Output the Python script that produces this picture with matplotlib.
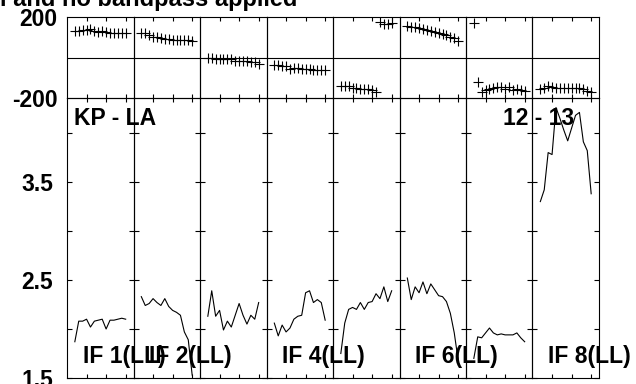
#!/usr/bin/env python3

import matplotlib
matplotlib.use("Agg")
import matplotlib.pyplot as plt

# channels shown in every IF panel
channels = [2, 3, 4, 5, 6, 7, 8, 9, 10, 11, 12, 13, 14, 15]

# amplitude per IF
amp_if1 = [1.87, 2.08, 2.08, 2.10, 2.02, 2.08, 2.09, 2.10, 2.00, 2.09, 2.09, 2.10, 2.11, 2.10]
amp_if2 = [2.33, 2.24, 2.26, 2.31, 2.27, 2.24, 2.31, 2.23, 2.19, 2.17, 2.14, 1.97, 1.89, 1.53]
amp_if3 = [2.13, 2.39, 2.13, 2.19, 1.99, 2.08, 2.02, 2.14, 2.26, 2.14, 2.05, 2.14, 2.10, 2.27]
amp_if4 = [2.06, 1.93, 2.04, 1.97, 2.01, 2.10, 2.13, 2.14, 2.37, 2.39, 2.27, 2.30, 2.27, 2.09]
amp_if5 = [1.75, 2.06, 2.20, 2.22, 2.20, 2.27, 2.20, 2.27, 2.28, 2.36, 2.31, 2.43, 2.28, 2.39]
amp_if6 = [2.52, 2.30, 2.43, 2.37, 2.48, 2.36, 2.46, 2.40, 2.34, 2.33, 2.28, 2.16, 1.96, 1.68]
amp_if7 = [1.70, 1.92, 1.91, 1.96, 2.01, 1.96, 1.94, 1.95, 1.94, 1.94, 1.94, 1.96, 1.91, 1.87]
amp_if8 = [3.30, 3.42, 3.80, 3.78, 4.26, 4.15, 4.03, 3.92, 4.05, 4.18, 4.21, 3.91, 3.82, 3.38]

# phase (degrees) per IF
phase_if1 = [129, 131, 134, 135, 142, 132, 126, 129, 126, 121, 119, 119, 119, 119]
phase_if2 = [119, 119, 109, 103, 103, 95, 91, 90, 85, 87, 85, 85, 85, 82]
phase_if3 = [0, -3, -5, -5, -6, -8, -8, -15, -15, -15, -16, -20, -24, -31]
phase_if4 = [-39, -39, -41, -44, -55, -51, -54, -57, -57, -59, -60, -60, -62, -62]
phase_if5 = [-139, -142, -142, -150, -153, -155, -158, -158, -162, -172, 176, 166, 166, 168]
phase_if6 = [155, 152, 149, 144, 140, 135, 131, 126, 121, 116, 109, 103, 95, 83]
phase_if7 = [168, -121, -171, -162, -155, -152, -147, -145, -158, -145, -162, -155, -162, -166]
phase_if8 = [-155, -150, -142, -145, -150, -152, -152, -152, -150, -149, -152, -158, -165, -168]

if_labels = ["IF 1(LL)", "IF 2(LL)", "", "IF 4(LL)", "", "IF 6(LL)", "", "IF 8(LL)"]


def main():
    plt.rcParams["font.family"] = ["Liberation Sans", "DejaVu Sans"]
    plt.rcParams["font.weight"] = "bold"

    amps = [amp_if1, amp_if2, amp_if3, amp_if4, amp_if5, amp_if6, amp_if7, amp_if8]
    phases = [phase_if1, phase_if2, phase_if3, phase_if4,
              phase_if5, phase_if6, phase_if7, phase_if8]

    W, H = 636, 384
    fig = plt.figure(figsize=(W / 100, H / 100), dpi=100)
    gs = fig.add_gridspec(
        2, 8,
        left=67 / W, right=599 / W,
        top=1 - 17 / H, bottom=1 - 378 / H,
        height_ratios=[81, 280],
        hspace=0, wspace=0,
    )

    fs = 16.5

    for i in range(8):
        axp = fig.add_subplot(gs[0, i])
        axa = fig.add_subplot(gs[1, i])

        for ax in (axp, axa):
            ax.set_xlim(0, 17)
            ax.set_xticks([5, 10, 15])
            ax.set_xticklabels([])
            ax.tick_params(axis="x", direction="in", top=True, bottom=True,
                           length=3.2, width=0.8)
            for sp in ax.spines.values():
                sp.set_linewidth(0.8)
            ax.patch.set_visible(False)

        # phase panel
        axp.plot(channels, phases[i], linestyle="none", marker="+",
                 color="black", markersize=6.5, markeredgewidth=0.8)
        axp.axhline(0, color="black", linewidth=0.8)
        axp.set_ylim(-200, 200)
        if i == 0:
            axp.set_yticks([-200, 200])
            axp.set_yticklabels(["-200", "200"], fontsize=fs, fontweight="bold")
            axp.tick_params(axis="y", length=0, pad=7)
        else:
            axp.set_yticks([])

        # amplitude panel
        axa.plot(channels, amps[i], color="black", linewidth=0.8)
        axa.set_ylim(1.5, 4.357)
        axa.set_yticks([1.5, 2.0, 2.5, 3.0, 3.5, 4.0])
        axa.tick_params(axis="y", direction="in", left=True, right=True,
                        length=3.6, width=0.8, pad=10)
        if i == 0:
            axa.set_yticklabels(["1.5", "", "2.5", "", "3.5", ""],
                                fontsize=fs, fontweight="bold")
        else:
            axa.set_yticklabels([])

        if if_labels[i]:
            fig.text(4.0, 1.65, if_labels[i], transform=axa.transData,
                     fontsize=fs, fontweight="bold", va="baseline", ha="left")

        if i == 0:
            fig.text(1.8, 4.08, "KP - LA", transform=axa.transData,
                     fontsize=fs, fontweight="bold", va="baseline", ha="left")
        if i == 7:
            fig.text(10.7, 4.08, "12 - 13", transform=axa.transData,
                     fontsize=fs, fontweight="bold", va="baseline", ha="right")

    fig.text(0, 1 - 6 / H, "l and no bandpass applied", fontsize=17,
             fontweight="bold", va="baseline", ha="left")

    fig.savefig("out.png", dpi=100)
    plt.close(fig)


if __name__ == "__main__":
    main()
